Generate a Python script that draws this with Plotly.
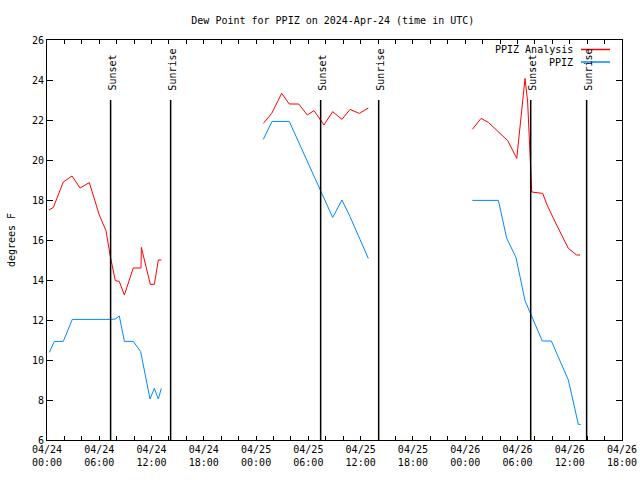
import pandas as pd
import plotly.graph_objects as go

BASE = pd.Timestamp("2024-04-24 00:00")

# Hours after 2024-04-24 00:00 UTC, dew point in degrees F
ana1_hours = [0.23, 0.73, 1.87, 2.87, 3.79, 4.86, 6.0, 6.77, 7.27, 7.84, 8.3, 8.88, 9.9, 10.79, 10.83, 11.86, 12.32, 12.78, 13.12]
ana1_vals = [17.5, 17.63, 18.9, 19.2, 18.6, 18.87, 17.25, 16.47, 15.17, 13.97, 13.93, 13.25, 14.6, 14.6, 15.63, 13.78, 13.78, 15.0, 15.0]

obs1_hours = [0.27, 0.84, 1.87, 2.9, 7.27, 7.84, 8.3, 8.88, 9.9, 10.75, 11.82, 12.32, 12.78, 13.12]
obs1_vals = [10.38, 10.93, 10.93, 12.03, 12.03, 12.05, 12.2, 10.93, 10.93, 10.42, 8.05, 8.58, 8.05, 8.58]

ana2_hours = [24.83, 25.79, 26.94, 27.81, 28.89, 29.88, 30.65, 31.79, 32.79, 33.86, 34.78, 35.85, 36.88]
ana2_vals = [21.83, 22.33, 23.33, 22.8, 22.8, 22.25, 22.47, 21.75, 22.42, 22.03, 22.53, 22.33, 22.6]

obs2_hours = [24.83, 25.83, 27.81, 31.33, 32.79, 33.86, 34.78, 35.93, 36.88]
obs2_vals = [21.03, 21.93, 21.93, 18.5, 17.13, 18.0, 17.17, 16.03, 15.08]

ana3_hours = [48.82, 49.82, 50.66, 52.26, 52.88, 53.92, 54.87, 55.17, 55.64, 56.9, 57.4, 58.5, 59.27, 59.84, 60.8, 61.18]
ana3_vals = [21.53, 22.08, 21.88, 21.2, 20.97, 20.08, 24.08, 22.9, 18.4, 18.33, 17.75, 16.75, 16.08, 15.58, 15.25, 15.25]

obs3_hours = [48.82, 51.81, 52.77, 53.83, 54.87, 55.44, 56.85, 57.89, 59.84, 60.99, 61.26]
obs3_vals = [17.98, 17.98, 16.08, 15.13, 12.97, 12.37, 10.95, 10.95, 9.0, 6.78, 6.78]

sun_hours = [7.3, 14.19, 31.41, 38.07, 55.52, 61.94]
sun_labels = ["Sunset", "Sunrise", "Sunset", "Sunrise", "Sunset", "Sunrise"]

tick_hours = list(range(0, 67, 2))

RED = "#ff0000"
BLUE = "#0088ff"
FONT = "DejaVu Sans Mono"


def to_time(hours):
    return BASE + pd.to_timedelta(pd.Series(hours, dtype=float), unit="h")


fig = go.Figure()
for h, v, c in [(ana1_hours, ana1_vals, RED), (obs1_hours, obs1_vals, BLUE),
                (ana2_hours, ana2_vals, RED), (obs2_hours, obs2_vals, BLUE),
                (ana3_hours, ana3_vals, RED), (obs3_hours, obs3_vals, BLUE)]:
    fig.add_trace(go.Scatter(x=to_time(h), y=v, mode="lines",
                             line=dict(color=c, width=1), showlegend=False))

sun_times = to_time(sun_hours)
for t, lab in zip(sun_times, sun_labels):
    fig.add_shape(type="line", xref="x", yref="y", x0=t, x1=t, y0=6, y1=23,
                  line=dict(color="black", width=1.5))
    fig.add_annotation(x=t, y=23.4, xref="x", yref="y", text=lab, textangle=-90,
                       showarrow=False, xanchor="center", yanchor="bottom", xshift=1,
                       font=dict(family=FONT, size=10, color="black"), borderpad=0)

# manual legend (text then line sample, like the original)
L, R, T, B = 47, 622, 40, 440
def px(xp):
    return (xp - L) / (R - L)
def py(yp):
    return (B - yp) / (B - T)

for label, color, ypix in [("PPIZ Analysis", RED, 49.5), ("PPIZ", BLUE, 62)]:
    fig.add_annotation(x=px(574), y=py(ypix), xref="paper", yref="paper", text=label,
                       showarrow=False, xanchor="right", yanchor="middle",
                       font=dict(family=FONT, size=10, color="black"), borderpad=0)
    fig.add_shape(type="line", xref="paper", yref="paper", x0=px(581), x1=px(610),
                  y0=py(ypix), y1=py(ypix), line=dict(color=color, width=1.5))

tick_times = to_time(tick_hours)
tick_text = [(BASE + pd.Timedelta(hours=h)).strftime("%m/%d<br>%H:%M") if h % 6 == 0 else ""
             for h in tick_hours]

fig.update_layout(
    width=640, height=480,
    margin=dict(l=L, r=640 - R, t=T, b=480 - B, autoexpand=False),
    paper_bgcolor="white", plot_bgcolor="white",
    font=dict(family=FONT, size=10, color="black"),
    title=dict(text="Dew Point for PPIZ on 2024-Apr-24 (time in UTC)", x=0.52, xanchor="center",
               y=1 - 20 / 480, yanchor="middle", font=dict(family=FONT, size=10, color="black")),
    showlegend=False,
    xaxis=dict(type="date", range=[BASE, BASE + pd.Timedelta(hours=66)], automargin=False,
               tickmode="array", tickvals=tick_times, ticktext=tick_text,
               ticks="inside", ticklen=4, tickcolor="black", showgrid=False, zeroline=False,
               showline=True, linecolor="black", linewidth=1, mirror="allticks",
               tickfont=dict(family=FONT, size=10, color="black")),
    yaxis=dict(range=[6, 26], dtick=2, tick0=6, ticks="inside", ticklen=6, tickcolor="black",
               automargin=False,
               showgrid=False, zeroline=False, showline=True, linecolor="black", linewidth=1,
               mirror="allticks", title=dict(text="degrees F", standoff=14,
                                             font=dict(family=FONT, size=10, color="black")),
               tickfont=dict(family=FONT, size=10, color="black")),
)

fig.write_html("out.html", config={"displayModeBar": False},
               post_script="document.body.style.margin='0';")
